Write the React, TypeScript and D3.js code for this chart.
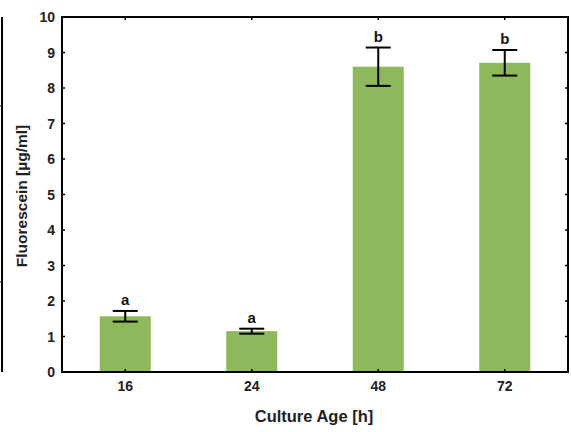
import React from "react";
import * as d3 from "d3";

const categories = ["16", "24", "48", "72"];
const means = [1.57, 1.15, 8.6, 8.71];
const errors = [0.15, 0.07, 0.54, 0.36];
const letters = ["a", "a", "b", "b"];
const yTicks = [0, 1, 2, 3, 4, 5, 6, 7, 8, 9, 10];

const W = 571, H = 432;
const left = 62, right = 568, top = 17, bottom = 372;

export default function App() {
  const x = d3.scaleBand<string>().domain(categories).range([left, right]).paddingInner(0).paddingOuter(0);
  const y = d3.scaleLinear().domain([0, 10]).range([bottom, top]);
  const bw = 51;
  const capW = 25;
  const font = "Liberation Sans, Arial, sans-serif";
  return (
    <svg width={W} height={H} style={{ position: "absolute", left: 0, top: 0, background: "#fff" }} fontFamily={font}>
      {/* partial neighbouring panel edge */}
      <line x1={2} x2={2} y1={y(10)} y2={y(0)} stroke="#000" strokeWidth={2} />
      <line x1={0} x2={3} y1={106} y2={106} stroke="#000" strokeWidth={1} />
      <line x1={0} x2={3} y1={282} y2={282} stroke="#000" strokeWidth={1} />
      {categories.map((c, i) => {
        const cx = (x(c) as number) + x.bandwidth() / 2;
        const hi = means[i] + errors[i];
        const lo = means[i] - errors[i];
        return (
          <g key={c}>
            <rect x={cx - bw / 2} y={y(means[i])} width={bw} height={y(0) - y(means[i])} fill="#8db85b" />
            <line x1={cx} x2={cx} y1={y(hi)} y2={y(lo)} stroke="#000" strokeWidth={2} />
            <line x1={cx - capW / 2} x2={cx + capW / 2} y1={y(hi)} y2={y(hi)} stroke="#000" strokeWidth={2} />
            <line x1={cx - capW / 2} x2={cx + capW / 2} y1={y(lo)} y2={y(lo)} stroke="#000" strokeWidth={2} />
            <text x={cx} y={y(hi) - 6} textAnchor="middle" fontSize={15} fontWeight="bold" fill="#111">{letters[i]}</text>
            <line x1={cx} x2={cx} y1={bottom} y2={bottom - 3} stroke="#000" strokeWidth={1.5} />
            <line x1={cx} x2={cx} y1={top} y2={top + 3} stroke="#000" strokeWidth={1.5} />
            <text x={cx} y={bottom + 19} textAnchor="middle" fontSize={14} fontWeight="bold" fill="#222">{c}</text>
          </g>
        );
      })}
      {yTicks.map((t) => (
        <g key={t}>
          <line x1={left} x2={left + 3} y1={y(t)} y2={y(t)} stroke="#000" strokeWidth={1.5} />
          <line x1={right} x2={right - 3} y1={y(t)} y2={y(t)} stroke="#000" strokeWidth={1.5} />
          <text x={left - 7} y={y(t)} dy="0.36em" textAnchor="end" fontSize={14} fontWeight="bold" fill="#222">{t}</text>
        </g>
      ))}
      <rect x={left} y={top} width={right - left} height={bottom - top} fill="none" stroke="#000" strokeWidth={2} />
      <text transform={`translate(27,196) rotate(-90)`} textAnchor="middle" fontSize={15.5} fontWeight="bold" fill="#222">Fluorescein [µg/ml]</text>
      <text x={314} y={422} textAnchor="middle" fontSize={16.5} fontWeight="bold" fill="#222">Culture Age [h]</text>
    </svg>
  );
}
